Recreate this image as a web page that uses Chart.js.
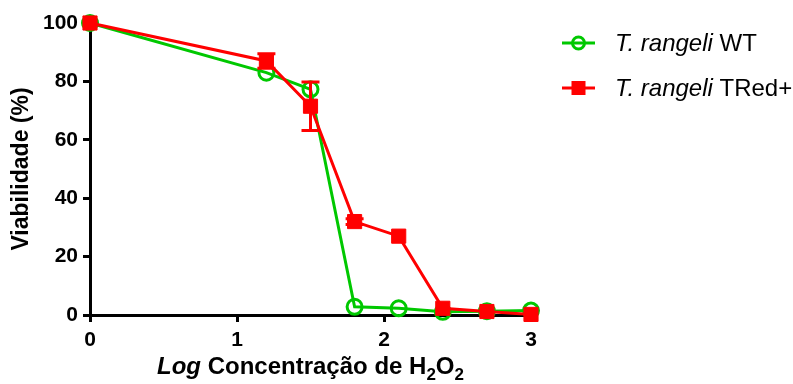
<!DOCTYPE html>
<html>
<head>
<meta charset="utf-8">
<script src="https://cdn.jsdelivr.net/npm/chart.js@4/dist/chart.umd.min.js"></script>
<style>
  html, body { margin: 0; padding: 0; background: #fff; }
  #wrap { width: 793px; height: 384px; }
</style>
</head>
<body>
<div id="wrap"><canvas id="c" width="793" height="384"></canvas></div>
<script>
// Log concentration of H2O2 (x) and viability in percent (y)
const logConc   = [0, 1.2, 1.5, 1.8, 2.1, 2.4, 2.7, 3];
const wtViab    = [100, 83, 77.3, 2.8, 2.3, 1.1, 1.3, 1.5];
const tredViab  = [100, 87, 71.5, 32, 27, 2.3, 1.2, 0.2];
const tredErr   = [0, 2.5, 8.3, 1, 0, 0, 0, 0];
const xTicks    = [0, 1, 2, 3];
const yTicks    = [0, 20, 40, 60, 80, 100];
const seriesNames = ['WT', 'TRed+'];
const species   = 'T. rangeli';

const GREEN = '#00c800';
const RED = '#ff0000';
const FONT = "'Liberation Sans', Arial, sans-serif";

const toPoints = ys => logConc.map((x, i) => ({ x: x, y: ys[i] }));

// Vertical error bars with caps for the TRed+ series
const errorBars = {
  id: 'errorBars',
  afterDatasetsDraw(chart) {
    const { ctx, scales: { x, y } } = chart;
    ctx.save();
    ctx.strokeStyle = RED;
    ctx.lineWidth = 3;
    logConc.forEach((lx, i) => {
      const e = tredErr[i];
      if (!e) return;
      const px = x.getPixelForValue(lx);
      const top = y.getPixelForValue(tredViab[i] + e);
      const bot = y.getPixelForValue(tredViab[i] - e);
      ctx.beginPath();
      ctx.moveTo(px, top); ctx.lineTo(px, bot);
      ctx.moveTo(px - 9, top); ctx.lineTo(px + 9, top);
      ctx.moveTo(px - 9, bot); ctx.lineTo(px + 9, bot);
      ctx.stroke();
    });
    ctx.restore();
  }
};

// Axis titles and the legend (mixed italic / subscript text)
const annotations = {
  id: 'annotations',
  afterDraw(chart) {
    const { ctx, chartArea: a } = chart;
    ctx.save();
    ctx.fillStyle = '#000';

    // y axis title
    ctx.save();
    ctx.translate(22, (a.top + a.bottom) / 2);
    ctx.rotate(-Math.PI / 2);
    ctx.font = 'bold 23px ' + FONT;
    ctx.textAlign = 'center';
    ctx.textBaseline = 'middle';
    ctx.fillText('Viabilidade (%)', 0, 0);
    ctx.restore();

    // x axis title: "Log Concentração de H2O2"
    const parts = [
      { t: 'Log', f: 'italic bold 24px ' + FONT, dy: 0 },
      { t: ' Concentração de H', f: 'bold 24px ' + FONT, dy: 0 },
      { t: '2', f: 'bold 17px ' + FONT, dy: 6 },
      { t: 'O', f: 'bold 24px ' + FONT, dy: 0 },
      { t: '2', f: 'bold 17px ' + FONT, dy: 6 }
    ];
    let total = 0;
    parts.forEach(p => { ctx.font = p.f; p.w = ctx.measureText(p.t).width; total += p.w; });
    let cx = (a.left + a.right) / 2 - total / 2;
    const base = 374;
    ctx.textAlign = 'left';
    ctx.textBaseline = 'alphabetic';
    parts.forEach(p => { ctx.font = p.f; ctx.fillText(p.t, cx, base + p.dy); cx += p.w; });

    // legend
    const rows = [
      { y: 43, color: GREEN, shape: 'circle', name: seriesNames[0] },
      { y: 88, color: RED, shape: 'square', name: seriesNames[1] }
    ];
    rows.forEach(r => {
      ctx.strokeStyle = r.color;
      ctx.lineWidth = 3;
      ctx.beginPath();
      ctx.moveTo(562, r.y); ctx.lineTo(595, r.y);
      ctx.stroke();
      if (r.shape === 'circle') {
        ctx.beginPath();
        ctx.arc(578.5, r.y, 6, 0, Math.PI * 2);
        ctx.stroke();
      } else {
        ctx.fillStyle = r.color;
        ctx.fillRect(571.5, r.y - 7, 14, 14);
      }
      ctx.fillStyle = '#000';
      ctx.textBaseline = 'middle';
      ctx.font = 'italic 24px ' + FONT;
      const sp = species + ' ';
      ctx.fillText(sp, 615, r.y + 1);
      const w = ctx.measureText(sp).width;
      ctx.font = '24px ' + FONT;
      ctx.fillText(r.name, 615 + w, r.y + 1);
    });
    ctx.restore();
  }
};

new Chart(document.getElementById('c'), {
  type: 'line',
  data: {
    datasets: [
      {
        label: species + ' ' + seriesNames[0],
        data: toPoints(wtViab),
        borderColor: GREEN,
        backgroundColor: 'rgba(0,0,0,0)',
        borderWidth: 3,
        pointStyle: 'circle',
        pointRadius: 7.5,
        pointBorderWidth: 3,
        pointBorderColor: GREEN,
        pointBackgroundColor: 'rgba(0,0,0,0)',
        order: 2,
        clip: false
      },
      {
        label: species + ' ' + seriesNames[1],
        data: toPoints(tredViab),
        borderColor: RED,
        backgroundColor: RED,
        borderWidth: 3,
        pointStyle: 'rect',
        pointRadius: 10,
        pointBorderWidth: 1,
        pointBorderColor: RED,
        pointBackgroundColor: RED,
        order: 1,
        clip: false
      }
    ]
  },
  options: {
    responsive: false,
    animation: false,
    layout: { padding: { top: 23, right: 262, left: 0, bottom: 0 } },
    plugins: { legend: { display: false }, tooltip: { enabled: false } },
    scales: {
      x: {
        type: 'linear',
        min: 0, max: 3,
        afterBuildTicks: s => { s.ticks = xTicks.map(v => ({ value: v })); },
        afterFit: s => { s.height = 69; },
        grid: { drawOnChartArea: false, drawTicks: true, tickLength: 7, tickWidth: 3, color: '#000' },
        border: { display: true, color: '#000', width: 3 },
        ticks: { color: '#000', font: { family: FONT, size: 21, weight: 'bold' }, padding: 6, maxRotation: 0 }
      },
      y: {
        type: 'linear',
        min: 0, max: 100,
        afterBuildTicks: s => { s.ticks = yTicks.map(v => ({ value: v })); },
        afterFit: s => { s.width = 90; },
        grid: { drawOnChartArea: false, drawTicks: true, tickLength: 7, tickWidth: 3, color: '#000' },
        border: { display: true, color: '#000', width: 3 },
        ticks: { color: '#000', font: { family: FONT, size: 21, weight: 'bold' }, padding: 5 }
      }
    }
  },
  plugins: [errorBars, annotations]
});
</script>
</body>
</html>
